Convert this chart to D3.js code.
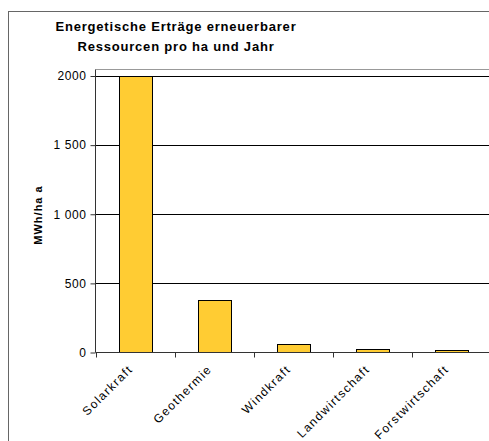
<!DOCTYPE html>
<html>
<head>
<meta charset="utf-8">
<script src="https://cdn.jsdelivr.net/npm/d3@7"></script>
<style>
  body { margin: 0; background: #fff; }
  svg { display: block; font-family: "Liberation Sans", Arial, sans-serif; }
</style>
</head>
<body>
<div id="chart"></div>
<script>
// data
var categories = ["Solarkraft", "Geothermie", "Windkraft", "Landwirtschaft", "Forstwirtschaft"];
var values = [2000, 375, 58, 22, 15];
var yTicks = [0, 500, 1000, 1500, 2000];
var yTickLabels = ["0", "500", "1 000", "1 500", "2000"];

var w = 489, h = 441;
var svg = d3.select("#chart").append("svg")
  .attr("width", w)
  .attr("height", h);

// outer chart border (cut off on right/bottom)
svg.append("rect")
  .attr("x", 8.5).attr("y", 11.5)
  .attr("width", 520).attr("height", 470)
  .attr("fill", "#fff")
  .attr("stroke", "#666")
  .attr("stroke-width", 1);

//SCALES
var x0 = 96, x1 = 96 + 79 * 5;
var xScale = d3.scaleBand()
  .domain(categories)
  .range([x0, x1])
  .paddingInner(0.58)
  .paddingOuter(0.29);

var yScale = d3.scaleLinear()
  .domain([0, 2000])
  .range([352, 75.5]);

// plot area top border
svg.append("line")
  .attr("x1", 95.5).attr("x2", w)
  .attr("y1", 69.5).attr("y2", 69.5)
  .attr("stroke", "#999");

//GRID
svg.append("g")
  .attr("class", "grid")
  .selectAll("line")
  .data(yTicks.filter(function(d) { return d > 0; }))
  .enter().append("line")
  .attr("x1", 95.5).attr("x2", w)
  .attr("y1", function(d) { return Math.round(yScale(d)) + 0.5; })
  .attr("y2", function(d) { return Math.round(yScale(d)) + 0.5; })
  .attr("stroke", "#000");

//BARS
svg.append("g")
  .selectAll("rect")
  .data(values)
  .enter().append("rect")
  .attr("x", function(d, i) { return Math.round(xScale(categories[i])) + 0.5; })
  .attr("y", function(d) { return Math.round(yScale(d)) + 0.5; })
  .attr("width", Math.round(xScale.bandwidth()))
  .attr("height", function(d) { return Math.round(yScale(0)) - Math.round(yScale(d)); })
  .attr("fill", "#FFCC33")
  .attr("stroke", "#000")
  .attr("stroke-width", 1);

//Y AXIS
var yAxis = d3.axisLeft(yScale)
  .tickValues(yTicks)
  .tickSize(5)
  .tickPadding(4)
  .tickFormat(function(d, i) { return yTickLabels[i]; });

var gy = svg.append("g")
  .attr("transform", "translate(95.5,0.5)")
  .call(yAxis);
gy.select(".domain").attr("stroke", "#333").attr("d", "M0,69V352");
gy.selectAll(".tick line").attr("stroke", "#333");
gy.selectAll("text").style("font-size", "12px").style("letter-spacing", "0.6px").attr("fill", "#000");

//X AXIS
var xAxisScale = d3.scaleLinear().domain([0, 5]).range([x0, x1]);
var gx = svg.append("g")
  .attr("transform", "translate(0.5," + (Math.round(yScale(0)) + 0.5) + ")");
gx.append("line")
  .attr("x1", 95).attr("x2", w)
  .attr("y1", 0).attr("y2", 0)
  .attr("stroke", "#333");
gx.selectAll(".tk")
  .data(d3.range(0, 6))
  .enter().append("line")
  .attr("x1", function(d) { return Math.round(xAxisScale(d)); })
  .attr("x2", function(d) { return Math.round(xAxisScale(d)); })
  .attr("y1", 0).attr("y2", 5)
  .attr("stroke", "#333");

// category labels rotated
svg.append("g")
  .selectAll("text")
  .data(categories)
  .enter().append("text")
  .attr("transform", function(d) {
    var cx = xScale(d) + xScale.bandwidth() / 2 - 2;
    return "translate(" + cx + ",370) rotate(-45)";
  })
  .attr("text-anchor", "end")
  .style("font-size", "12px")
  .style("letter-spacing", "1.4px")
  .text(function(d) { return d; });

//Y LABEL
svg.append("text")
  .attr("transform", "translate(42,215) rotate(-90)")
  .attr("text-anchor", "middle")
  .style("font-size", "11px")
  .style("font-weight", "bold")
  .style("letter-spacing", "1px")
  .text("MWh/ha a");

//TITLE
var title = svg.append("text")
  .attr("text-anchor", "middle")
  .style("font-size", "13px")
  .style("font-weight", "bold")
  .style("letter-spacing", "0.8px");
title.append("tspan").attr("x", 176).attr("y", 31).text("Energetische Erträge erneuerbarer");
title.append("tspan").attr("x", 176).attr("y", 51).text("Ressourcen pro ha und Jahr");
</script>
</body>
</html>
